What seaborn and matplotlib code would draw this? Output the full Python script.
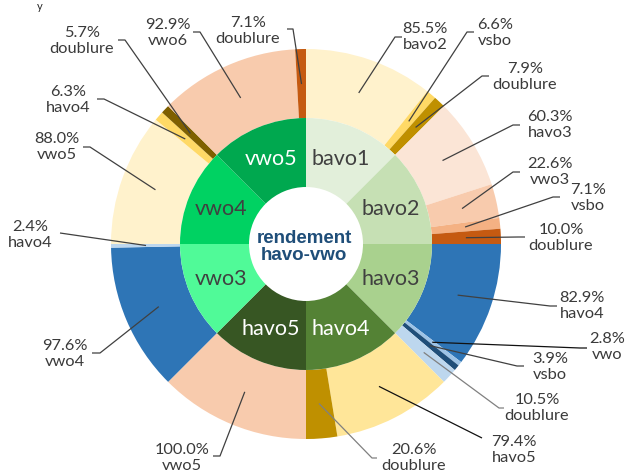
import numpy as np
import matplotlib
matplotlib.use("Agg")
import matplotlib.pyplot as plt
import seaborn as sns

# inner ring: starting class
inner_labels = ["bavo1", "bavo2", "havo3", "havo4", "havo5", "vwo3", "vwo4", "vwo5"]
inner_colors = ["#e2efda", "#c6e0b4", "#a9d18e", "#548235", "#375623", "#50fa98", "#00d262", "#00a84f"]
inner_text_colors = ["#404040", "#404040", "#404040", "white", "white", "#404040", "#404040", "white"]

# outer ring: where the pupils went (percent of parent)
outer_parent = [0, 0, 0, 1, 1, 1, 1, 2, 2, 2, 2, 3, 3, 4, 5, 5, 6, 6, 6, 7, 7]
outer_names = ["bavo2", "vsbo", "doublure",
               "havo3", "vwo3", "vsbo", "doublure",
               "havo4", "vwo", "vsbo", "doublure",
               "havo5", "doublure",
               "vwo5",
               "vwo4", "havo4",
               "vwo5", "havo4", "doublure",
               "vwo6", "doublure"]
outer_pct = [85.5, 6.6, 7.9,
             60.3, 22.6, 7.1, 10.0,
             82.9, 2.8, 3.9, 10.5,
             79.4, 20.6,
             100.0,
             97.6, 2.4,
             88.0, 6.3, 5.7,
             92.9, 7.1]
outer_colors = ["#fff2cc", "#ffd966", "#bf9000",
                "#fbe5d6", "#f8cbad", "#f4b183", "#c55a11",
                "#2e75b6", "#9dc3e6", "#1f4e79", "#bdd7ee",
                "#ffe699", "#bf9000",
                "#f8cbad",
                "#2e75b6", "#bdd7ee",
                "#fff2cc", "#ffd966", "#7f6000",
                "#f8cbad", "#c55a11"]

# label layout in pixels (text centre, end of leader line, elbow)
label_xy = [(425, 37), (495, 33), (525, 77), (550, 125), (550, 172), (588, 198), (561, 238),
            (582, 306), (607, 347), (550, 367), (537, 408), (514, 450), (414, 458),
            (182, 458), (65, 354), (30, 235), (57, 147), (68, 100), (82, 41), (168, 33), (248, 31)]
line_end = [(402, 37), (474, 32), (489, 76), (520, 125), (520, 172), (560, 197), (525, 237),
            (557, 306), (587, 348), (524, 366), (504, 408), (482, 438), (377, 458),
            (213, 456), (92, 353), (60, 233), (83, 147), (97, 99), (118, 40), (193, 32), (287, 29)]
line_elbow = [(395, 37), (467, 32), (482, 76), (513, 125), (513, 172), (553, 197), (518, 237),
              (550, 306), (580, 348), (517, 366), (499, 408), (482, 438), (372, 458),
              (220, 456), (100, 353), (60, 233), (90, 147), (104, 99), (125, 40), (200, 32), (293, 29)]
line_colors = ["#404040"] * 21
line_colors[10] = "#808080"
line_colors[12] = "#808080"
line_colors[8] = "#111111"
line_colors[11] = "#111111"

W, H = 627, 476
cx, cy = 306, 244
R_out, R_mid, R_hole = 195, 126, 57

sns.set_theme(style="white")
plt.rcParams["font.family"] = ["Lato", "DejaVu Sans"]

fig = plt.figure(figsize=(W / 100, H / 100), dpi=100)
ax = fig.add_axes([0, 0, 1, 1])


def py(y):
    return H - y


# outer widths scaled so each parent covers 1/8 of the circle
pct = np.array(outer_pct)
parent = np.array(outer_parent)
totals = np.array([pct[parent == i].sum() for i in range(len(inner_labels))])
frac = pct / totals[parent] / len(inner_labels)

ax.pie(frac, radius=R_out, center=(cx, py(cy)), startangle=90, counterclock=False,
       colors=outer_colors, wedgeprops=dict(width=R_out - R_mid, linewidth=0))
ax.pie(np.ones(len(inner_labels)), radius=R_mid, center=(cx, py(cy)), startangle=90,
       counterclock=False, colors=inner_colors,
       wedgeprops=dict(width=R_mid - R_hole, linewidth=0))

# inner labels
r_lab = (R_mid + R_hole) / 2
for i, lab in enumerate(inner_labels):
    ang = np.deg2rad(90 - 45 * (i + 0.5))
    ax.text(cx + r_lab * np.cos(ang), py(cy) + r_lab * np.sin(ang), lab,
            ha="center", va="center", fontsize=15.5, color=inner_text_colors[i])

# outer labels with leader lines
cum = np.concatenate([[0], np.cumsum(frac)[:-1]])
r_anchor = 160
for k in range(len(outer_pct)):
    ang = np.deg2rad(90 - 360 * (cum[k] + frac[k] / 2))
    ax_, ay_ = cx + r_anchor * np.cos(ang), py(cy) + r_anchor * np.sin(ang)
    bx, by = line_elbow[k]
    ex, ey = line_end[k]
    ax.plot([ax_, bx, ex], [ay_, py(by), py(ey)], color=line_colors[k], lw=0.9,
            solid_capstyle="butt")
    tx, ty = label_xy[k]
    ax.text(tx, py(ty), f"{outer_pct[k]:.1f}%\n{outer_names[k]}", ha="center", va="center",
            fontsize=11.8, color="#3a3a3a", linespacing=1.15)

# centre title
ax.text(cx - 2, py(cy + 3), "rendement\nhavo-vwo", ha="center", va="center",
        fontsize=13.5, fontweight="bold", color="#1f4e79", family="Liberation Sans",
        linespacing=1.05)

# remnant of the title at the top edge
fig.text(40 / W, 1 - 1 / H, "y", ha="center", va="top", fontsize=8, color="#262626")

ax.set_xlim(0, W)
ax.set_ylim(0, H)
ax.set_aspect("auto")
ax.axis("off")

fig.savefig("out.png", dpi=100, facecolor="white")
